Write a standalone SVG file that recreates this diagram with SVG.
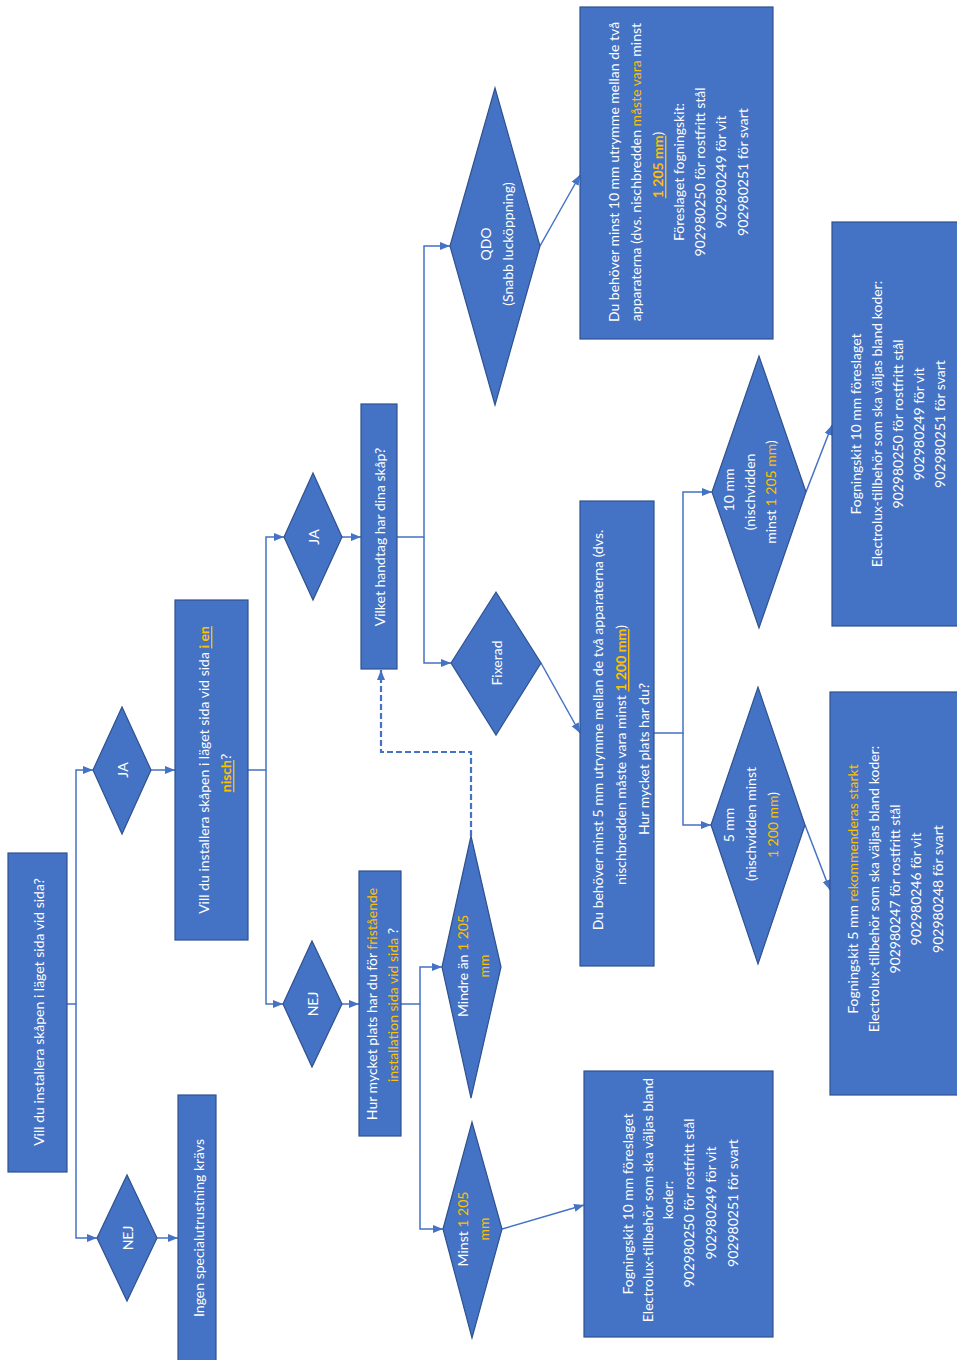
<svg xmlns="http://www.w3.org/2000/svg" width="957" height="1360" viewBox="0 0 957 1360">
<style>
.n{fill:#4472C4;stroke:#2F528F;stroke-width:1.2}
.c{fill:none;stroke:#4472C4;stroke-width:1.5}
.d{fill:none;stroke:#4472C4;stroke-width:2.2;stroke-dasharray:6 3}
.t{font-family:Lato,"Liberation Sans",sans-serif;font-size:14px;fill:#fff;text-anchor:middle;dominant-baseline:central}
.y{fill:#FFC000}
.yb{fill:#FFC000;font-weight:bold;text-decoration:underline}
</style>
<defs>
<marker id="a" markerUnits="userSpaceOnUse" markerWidth="10" markerHeight="10" viewBox="0 0 10 10" refX="10" refY="5" orient="auto">
<path d="M0,1 L10,5 L0,9 Z" fill="#4472C4"/>
</marker>
</defs>
<rect width="957" height="1360" fill="#fff"/>
<g id="connectors">
<path class="c" d="M67,1004 H76 V770 H93" marker-end="url(#a)"/>
<path class="c" d="M76,1004 V1238 H97" marker-end="url(#a)"/>
<path class="c" d="M157,1238 H178" marker-end="url(#a)"/>
<path class="c" d="M151,770 H175" marker-end="url(#a)"/>
<path class="c" d="M248,770 H266 V537 H284" marker-end="url(#a)"/>
<path class="c" d="M266,770 V1004 H283" marker-end="url(#a)"/>
<path class="c" d="M342,537 H361" marker-end="url(#a)"/>
<path class="c" d="M342,1004 H359" marker-end="url(#a)"/>
<path class="c" d="M397,537 H424 V246 H450" marker-end="url(#a)"/>
<path class="c" d="M424,537 V663 H451" marker-end="url(#a)"/>
<path class="c" d="M401,1004 H420 V967 H442" marker-end="url(#a)"/>
<path class="c" d="M420,1004 V1229 H443" marker-end="url(#a)"/>
<path class="d" d="M471,836 V752 H381 V670" marker-end="url(#a)"/>
<path class="c" d="M540,246 L580,175" marker-end="url(#a)"/>
<path class="c" d="M541,663 L580,733" marker-end="url(#a)"/>
<path class="c" d="M654,733 H683 V492 H712" marker-end="url(#a)"/>
<path class="c" d="M683,733 V825 H711" marker-end="url(#a)"/>
<path class="c" d="M806,492 L832,425" marker-end="url(#a)"/>
<path class="c" d="M805,825 L830,890" marker-end="url(#a)"/>
<path class="c" d="M502,1229 L584,1205" marker-end="url(#a)"/>
</g>
<g id="start">
<rect class="n" x="8" y="853" width="59" height="319"/>
<text class="t" transform="rotate(-90)"><tspan x="-1012" y="38">Vill du installera skåpen i läget sida vid sida?</tspan></text>
</g>
<g id="ja1">
<polygon class="n" points="93,770 122,707 151,770 122,834"/>
<text class="t" transform="rotate(-90)"><tspan x="-770" y="122">JA</tspan></text>
</g>
<g id="nej1">
<polygon class="n" points="97,1238 127,1175 157,1238 127,1301"/>
<text class="t" transform="rotate(-90)"><tspan x="-1238" y="127">NEJ</tspan></text>
</g>
<g id="ingen">
<rect class="n" x="178" y="1095" width="38" height="270"/>
<text class="t" transform="rotate(-90)"><tspan x="-1228" y="198">Ingen specialutrustning krävs</tspan></text>
</g>
<g id="nisch">
<rect class="n" x="175" y="600" width="73" height="340"/>
<text class="t" transform="rotate(-90)"><tspan x="-770" y="203">Vill du installera skåpen i läget sida vid sida <tspan class="yb">i en</tspan></tspan><tspan x="-773" y="225"><tspan class="yb">nisch</tspan>?</tspan></text>
</g>
<g id="ja2">
<polygon class="n" points="284,537 313,473 342,537 313,600"/>
<text class="t" transform="rotate(-90)"><tspan x="-537" y="313">JA</tspan></text>
</g>
<g id="nej2">
<polygon class="n" points="283,1004 312,941 342,1004 312,1067"/>
<text class="t" transform="rotate(-90)"><tspan x="-1004" y="312">NEJ</tspan></text>
</g>
<g id="handtag">
<rect class="n" x="361" y="404" width="36" height="265"/>
<text class="t" transform="rotate(-90)"><tspan x="-537" y="379">Vilket handtag har dina skåp?</tspan></text>
</g>
<g id="plats">
<rect class="n" x="359" y="871" width="42" height="265"/>
<text class="t" transform="rotate(-90)"><tspan x="-1004" y="371">Hur mycket plats har du för <tspan class="y">fristående</tspan></tspan><tspan x="-1005" y="392"><tspan class="y">installation sida vid sida</tspan> ?</tspan></text>
</g>
<g id="qdo">
<polygon class="n" points="450,246 495,88 540,246 495,405"/>
<text class="t" transform="rotate(-90)"><tspan x="-244" y="485">QDO</tspan><tspan x="-244" y="507">(Snabb lucköppning)</tspan></text>
</g>
<g id="fixerad">
<polygon class="n" points="451,663 496,592 541,663 496,735"/>
<text class="t" transform="rotate(-90)"><tspan x="-663" y="496">Fixerad</tspan></text>
</g>
<g id="mindre">
<polygon class="n" points="442,967 471,836 501,967 471,1098"/>
<text class="t" transform="rotate(-90)"><tspan x="-966" y="462">Mindre än <tspan class="y">1 205</tspan></tspan><tspan x="-966" y="483" class="y">mm</tspan></text>
</g>
<g id="minst">
<polygon class="n" points="443,1229 472,1122 502,1229 472,1338"/>
<text class="t" transform="rotate(-90)"><tspan x="-1229" y="462">Minst <tspan class="y">1 205</tspan></tspan><tspan x="-1229" y="483" class="y">mm</tspan></text>
</g>
<g id="qdo-result">
<rect class="n" x="580" y="7" width="193" height="332"/>
<text class="t" transform="rotate(-90)"><tspan x="-172" y="613">Du behöver minst 10 mm utrymme mellan de två</tspan><tspan x="-172" y="635">apparaterna (dvs. nischbredden <tspan class="y">måste vara</tspan>  minst</tspan><tspan x="-165" y="657"><tspan class="yb">1 205 mm</tspan>)</tspan><tspan x="-172" y="678">Föreslaget fogningskit:</tspan><tspan x="-172" y="699">902980250 för rostfritt stål</tspan><tspan x="-172" y="720">902980249 för vit</tspan><tspan x="-172" y="742">902980251 för svart</tspan></text>
</g>
<g id="fix-result">
<rect class="n" x="580" y="501" width="74" height="465"/>
<text class="t" transform="rotate(-90)"><tspan x="-730" y="597">Du behöver minst 5 mm utrymme mellan de två apparaterna (dvs.</tspan><tspan x="-755" y="620">nischbredden måste vara minst <tspan class="yb">1 200 mm</tspan>)</tspan><tspan x="-759" y="643">Hur mycket plats har du?</tspan></text>
</g>
<g id="mm10">
<polygon class="n" points="712,492 759,356 806,492 759,628"/>
<text class="t" transform="rotate(-90)"><tspan x="-490" y="728">10 mm</tspan><tspan x="-492" y="749">(nischvidden</tspan><tspan x="-492" y="770">minst <tspan class="y">1 205 mm</tspan>)</tspan></text>
</g>
<g id="mm5">
<polygon class="n" points="711,825 758,687 805,825 758,964"/>
<text class="t" transform="rotate(-90)"><tspan x="-825" y="728">5 mm</tspan><tspan x="-824" y="750">(nischvidden minst</tspan><tspan x="-825" y="772"><tspan class="y">1 200 mm</tspan>)</tspan></text>
</g>
<g id="mm10-result">
<rect class="n" x="832" y="222" width="130" height="404"/>
<text class="t" transform="rotate(-90)"><tspan x="-424" y="855">Fogningskit 10 mm föreslaget</tspan><tspan x="-424" y="876">Electrolux-tillbehör som ska väljas bland koder:</tspan><tspan x="-424" y="897">902980250 för rostfritt stål</tspan><tspan x="-424" y="918">902980249 för vit</tspan><tspan x="-424" y="939">902980251 för svart</tspan></text>
</g>
<g id="mm5-result">
<rect class="n" x="830" y="692" width="132" height="403"/>
<text class="t" transform="rotate(-90)"><tspan x="-889" y="852">Fogningskit 5 mm <tspan class="y">rekommenderas starkt</tspan></tspan><tspan x="-889" y="873">Electrolux-tillbehör som ska väljas bland koder:</tspan><tspan x="-889" y="894">902980247 för rostfritt stål</tspan><tspan x="-889" y="915">902980246 för vit</tspan><tspan x="-889" y="937">902980248 för svart</tspan></text>
</g>
<g id="minst-result">
<rect class="n" x="584" y="1071" width="189" height="266"/>
<text class="t" transform="rotate(-90)"><tspan x="-1204" y="627">Fogningskit 10 mm föreslaget</tspan><tspan x="-1200" y="647">Electrolux-tillbehör som ska väljas bland</tspan><tspan x="-1200" y="667">koder:</tspan><tspan x="-1203" y="688">902980250 för rostfritt stål</tspan><tspan x="-1203" y="710">902980249 för vit</tspan><tspan x="-1203" y="732">902980251 för svart</tspan></text>
</g>
</svg>
